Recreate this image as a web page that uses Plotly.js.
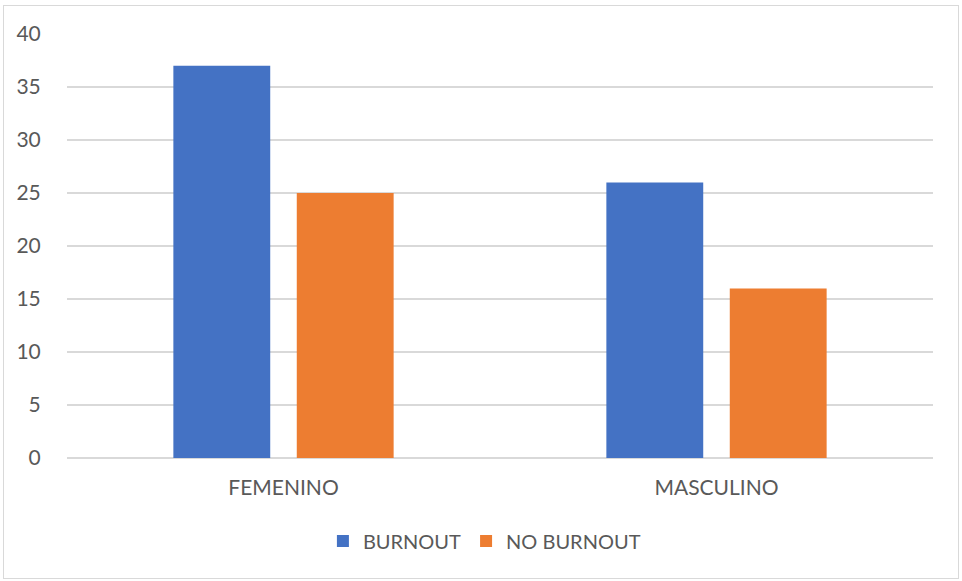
<!DOCTYPE html>
<html><head><meta charset="utf-8">
<script src="https://cdn.plot.ly/plotly-3.0.1.min.js"></script>
<style>
html,body{margin:0;padding:0;background:#fff;}
#frame{position:absolute;left:3px;top:5px;width:956px;height:574px;border:1px solid #d9d9d9;box-sizing:border-box;pointer-events:none;z-index:10;}
#chart{position:absolute;left:0;top:0;width:962px;height:581px;}
</style></head>
<body>
<div id="chart"></div><div id="frame"></div>
<script>
const categories = ["FEMENINO", "MASCULINO"];
const burnout = [37, 26];
const noBurnout = [25, 16];
const yTicks = [0, 5, 10, 15, 20, 25, 30, 35, 40];

const font = {family: "Lato, Liberation Sans, Arial, sans-serif", size: 21, color: "#595959"};
const legendFont = {family: "Lato, Liberation Sans, Arial, sans-serif", size: 20, color: "#595959"};
const traces = [
  {type: "bar", name: "BURNOUT", x: categories, y: burnout, marker: {color: "#4472c4"}},
  {type: "bar", name: "NO BURNOUT", x: categories, y: noBurnout, marker: {color: "#ed7d31"}}
];
const layout = {
  width: 962, height: 581,
  margin: {l: 67, r: 29, t: 33.5, b: 122.5},
  paper_bgcolor: "#ffffff", plot_bgcolor: "#ffffff",
  barmode: "group", bargap: 0.43, bargroupgap: 0.215,
  font: font,
  showlegend: true,
  legend: {orientation: "h", x: 0.482, xanchor: "center", y: -0.196, yanchor: "middle", font: legendFont, traceorder: "normal", itemwidth: 30},
  xaxis: {type: "category", showgrid: false, zeroline: false, showline: false, ticks: "outside", ticklen: 11, tickcolor: "rgba(0,0,0,0)", tickfont: font},
  yaxis: {range: [0, 40], tickvals: yTicks, ticktext: yTicks.map(String), showgrid: true, gridcolor: "#d9d9d9", gridwidth: 1.3, zeroline: true, zerolinecolor: "#d9d9d9", zerolinewidth: 1.3, showline: false, ticks: "outside", ticklen: 21, tickcolor: "rgba(0,0,0,0)", tickfont: font}
};
Plotly.newPlot("chart", traces, layout, {displayModeBar: false, staticPlot: true});
</script>
</body></html>
